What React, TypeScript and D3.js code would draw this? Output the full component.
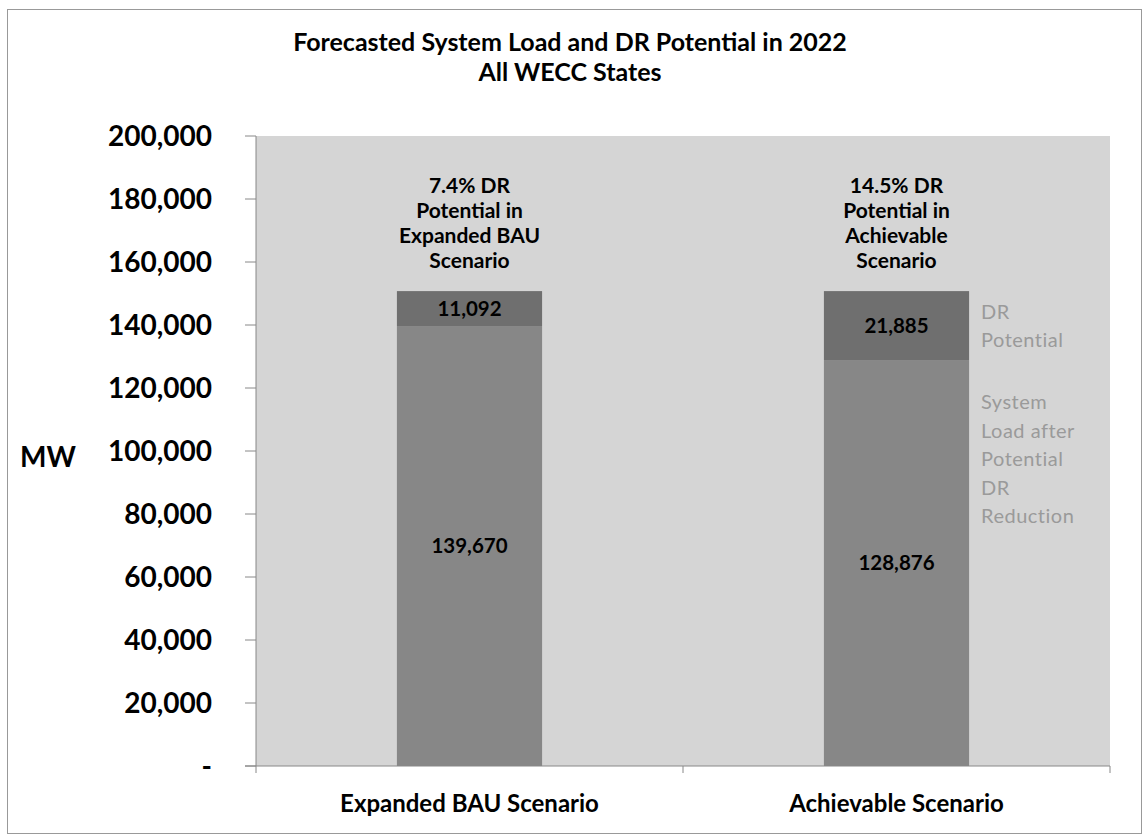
import React from "react"
import * as d3 from "d3"

// values (MW, 2022)
const scenarios = ["Expanded BAU Scenario", "Achievable Scenario"]
const loadAfterDR = [139670, 128876]
const drPotential = [11092, 21885]
const topNotes = [
  ["7.4% DR", "Potential in", "Expanded BAU", "Scenario"],
  ["14.5% DR", "Potential in", "Achievable", "Scenario"],
]
const yTicks = [0, 20000, 40000, 60000, 80000, 100000, 120000, 140000, 160000, 180000, 200000]
const legendDR = ["DR", "Potential"]
const legendLoad = ["System", "Load after", "Potential", "DR", "Reduction"]

const W = 1144, H = 840
const plot = { left: 256, right: 1110, top: 136, bottom: 766 }
const font = "Lato, 'Open Sans', sans-serif"

export default function App() {
  const x = d3.scaleBand().domain(scenarios).range([plot.left, plot.right]).paddingInner(0.66).paddingOuter(0.33)
  const y = d3.scaleLinear().domain([0, 200000]).range([plot.bottom, plot.top])
  const fmt = d3.format(",")
  const bw = x.bandwidth()

  return (
    <svg width={W} height={H} style={{ position: "absolute", left: 0, top: 0 }} fontFamily={font}>
      <rect x={0} y={0} width={W} height={H} fill="#fff" />
      <rect x={7.5} y={9.5} width={1134} height={824} fill="none" stroke="#999" />

      <text x={570} y={42} dy="0.36em" textAnchor="middle" fontSize={25} fontWeight="bold">
        Forecasted System Load and DR Potential in 2022
      </text>
      <text x={570} y={72} dy="0.36em" textAnchor="middle" fontSize={25} fontWeight="bold">All WECC States</text>

      {/* plot area */}
      <rect x={plot.left} y={plot.top} width={plot.right - plot.left} height={plot.bottom - plot.top} fill="#d5d5d5" />

      {/* y axis */}
      <line x1={plot.left} x2={plot.left} y1={plot.top} y2={plot.bottom} stroke="#888" />
      {yTicks.map(t => (
        <g key={t}>
          <line x1={plot.left - 11} x2={plot.left} y1={y(t)} y2={y(t)} stroke="#888" />
          <text x={212} y={y(t)} dy="0.36em" textAnchor="end" fontSize={28} fontWeight="bold">
            {t === 0 ? "-" : fmt(t)}
          </text>
        </g>
      ))}
      <text x={48} y={457} dy="0.36em" textAnchor="middle" fontSize={28} fontWeight="bold">MW</text>

      {/* x axis */}
      <line x1={plot.left - 11} x2={plot.right} y1={plot.bottom} y2={plot.bottom} stroke="#888" />
      {[plot.left, (plot.left + plot.right) / 2, plot.right].map((tx, i) => (
        <line key={i} x1={tx} x2={tx} y1={plot.bottom} y2={plot.bottom + 7} stroke="#888" />
      ))}

      {scenarios.map((s, i) => {
        const x0 = x(s) as number
        const cx = x0 + bw / 2
        const total = loadAfterDR[i] + drPotential[i]
        return (
          <g key={s}>
            <rect x={x0} y={y(loadAfterDR[i])} width={bw} height={y(0) - y(loadAfterDR[i])} fill="#878787" />
            <rect x={x0} y={y(total)} width={bw} height={y(loadAfterDR[i]) - y(total)} fill="#6f6f6f" />
            <text x={cx} y={y(loadAfterDR[i] / 2)} dy="0.36em" textAnchor="middle" fontSize={20.5} fontWeight="bold">
              {fmt(loadAfterDR[i])}
            </text>
            <text x={cx} y={(y(total) + y(loadAfterDR[i])) / 2} dy="0.36em" textAnchor="middle" fontSize={20.5} fontWeight="bold">
              {fmt(drPotential[i])}
            </text>
            {topNotes[i].map((ln, j) => (
              <text key={j} x={cx} y={y(total) - 106 + j * 25} dy="0.36em" textAnchor="middle" fontSize={21} fontWeight="bold">
                {ln}
              </text>
            ))}
            <text x={cx} y={803} dy="0.36em" textAnchor="middle" fontSize={24} fontWeight="bold">{s}</text>
          </g>
        )
      })}

      {/* legend labels next to 2nd bar */}
      {legendDR.map((ln, j) => (
        <text key={"d" + j} x={981} y={312 + j * 28} dy="0.36em" fontSize={20} letterSpacing={0.5} fill="#9a9a9a">{ln}</text>
      ))}
      {legendLoad.map((ln, j) => (
        <text key={"l" + j} x={981} y={402 + j * 28.5} dy="0.36em" fontSize={20} letterSpacing={0.5} fill="#9a9a9a">{ln}</text>
      ))}
    </svg>
  )
}
